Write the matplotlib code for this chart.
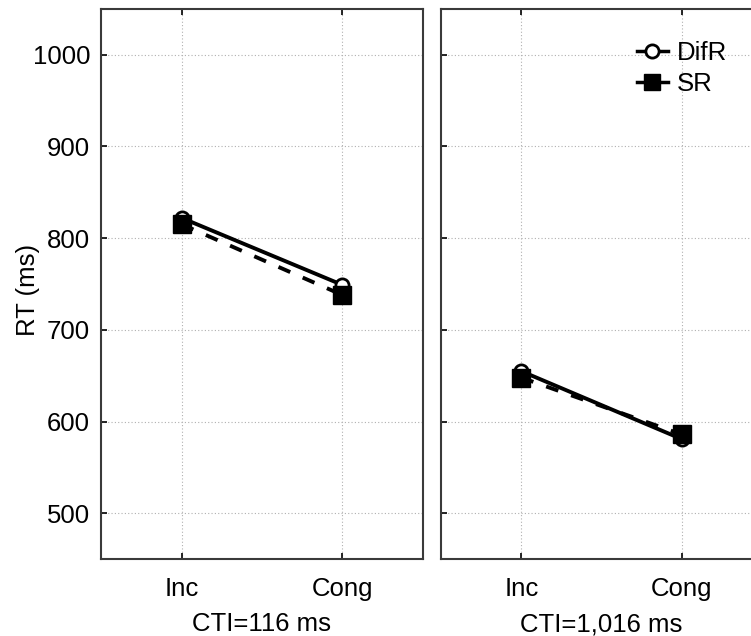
import matplotlib
matplotlib.use("Agg")
import matplotlib.pyplot as plt
from matplotlib.lines import Line2D

plt.rcParams['font.family'] = ['Liberation Sans', 'DejaVu Sans']

conditions = ["Inc", "Cong"]
panel_labels = ["CTI=116 ms", "CTI=1,016 ms"]
difr_values = [[822, 749], [655, 581]]
sr_values = [[815, 738], [648, 586]]
yticks = [500, 600, 700, 800, 900, 1000]

W, H = 751, 636
fig = plt.figure(figsize=(W / 100, H / 100), dpi=100)

def frame(x0, x1, y0, y1):
    return [x0 / W, 1 - y1 / H, (x1 - x0) / W, (y1 - y0) / H]

ax1 = fig.add_axes(frame(101.3, 422.7, 8.7, 559.3))
ax2 = fig.add_axes(frame(441, 762, 8.7, 559.3), sharey=ax1)

fs = 18.5
spine_col = '#3a3a3a'
for i, ax in enumerate([ax1, ax2]):
    xs = list(range(len(conditions)))
    ax.plot(xs, sr_values[i], color='black', lw=2.8, ls=(0, (3.3, 3.5)),
            marker='s', markersize=13, markerfacecolor='black',
            markeredgecolor='black', zorder=3)
    ax.plot(xs, difr_values[i], color='black', lw=2.8, ls='-',
            marker='o', markersize=9.5, markerfacecolor='white',
            markeredgecolor='black', markeredgewidth=2, zorder=2)
    ax.set_xlim(-0.5, 1.5)
    ax.set_ylim(450, 1050)
    ax.set_xticks(xs)
    ax.set_xticklabels(conditions, fontsize=fs)
    ax.set_yticks(yticks)
    ax.grid(True, color='#b0b0b0', ls=(0, (1, 2)), lw=0.8)
    ax.set_axisbelow(True)
    ax.tick_params(direction='in', length=4, width=1.2, top=True,
                   labelsize=fs, colors='black')
    ax.tick_params(axis='x', pad=13)
    ax.tick_params(axis='y', pad=8)
    for s in ax.spines.values():
        s.set_color(spine_col)
        s.set_linewidth(1.5)
    ax.set_xlabel(panel_labels[i], fontsize=fs, labelpad=8)

ax1.set_ylabel("RT (ms)", fontsize=fs)
ax1.yaxis.set_label_coords(-0.19, 0.49)
ax2.tick_params(labelleft=False)

handles = [
    Line2D([], [], color='black', lw=2.5, marker='o', markersize=9.5,
           markerfacecolor='white', markeredgecolor='black', markeredgewidth=2),
    Line2D([], [], color='black', lw=2.5, marker='s', markersize=12,
           markerfacecolor='black', markeredgecolor='black'),
]
fig.legend(handles, ["DifR", "SR"], loc='upper left',
           bbox_to_anchor=(637 / W, 1 - 41 / H), frameon=False,
           fontsize=fs, handlelength=1.2, handletextpad=0.35,
           labelspacing=0.27, borderpad=0, borderaxespad=0)

fig.savefig("out.png", dpi=100)
